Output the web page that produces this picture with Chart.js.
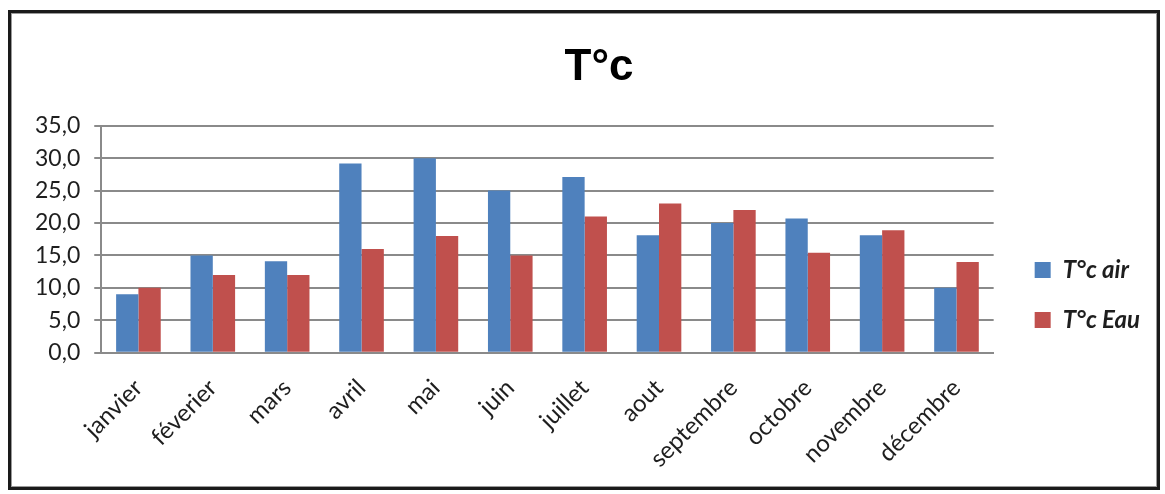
<!DOCTYPE html>
<html lang="fr">
<head>
<meta charset="utf-8">
<title>T°c</title>
<script src="https://cdn.jsdelivr.net/npm/chart.js@4/dist/chart.umd.min.js"></script>
<style>
  html, body { margin: 0; padding: 0; background: #fff; }
  #wrap { position: relative; width: 1165px; height: 494px; overflow: hidden; }
  #c { position: absolute; left: 0; top: 0; }
  #frame {
    position: absolute; left: 8px; top: 10px; width: 1146px; height: 474px;
    border: 3px solid #1a1a1a;
    box-shadow: inset 0 0 0 1px #9a9a9a;
    pointer-events: none;
  }
</style>
</head>
<body>
<div id="wrap">
  <canvas id="c" width="1165" height="494"></canvas>
  <div id="frame"></div>
</div>
<script>
// Mois de l'année
const months = ['janvier', 'féverier', 'mars', 'avril', 'mai', 'juin',
                'juillet', 'aout', 'septembre', 'octobre', 'novembre', 'décembre'];

// Températures moyennes mensuelles (°C)
const airTemp = [9.0, 15.0, 14.1, 29.2, 30.0, 25.0, 27.1, 18.1, 20.0, 20.7, 18.1, 10.0];
const waterTemp = [10.0, 12.0, 12.0, 16.0, 18.0, 15.0, 21.0, 23.0, 22.0, 15.4, 18.9, 14.0];

// Graduations de l'axe des ordonnées
const yTicks = [0, 5, 10, 15, 20, 25, 30, 35];

const seriesNames = ['T°c air', 'T°c Eau'];
const chartTitle = 'T°c';

const gridGray = '#8a8a8a';
const textDark = '#1e1e1e';

// Ajuste la position du titre et de la légende après la mise en page
const blockShift = {
  id: 'blockShift',
  afterLayout(chart) {
    const lg = chart.legend;
    if (lg) {
      lg.left += 15; lg.right += 15;
      lg.top += 220; lg.bottom += 220;
    }
    const tb = chart.titleBlock;
    if (tb) { tb.left += 21; tb.right += 21; }
  }
};

new Chart(document.getElementById('c'), {
  type: 'bar',
  data: {
    labels: months,
    datasets: [
      { label: seriesNames[0], data: airTemp, backgroundColor: '#4f81bd' },
      { label: seriesNames[1], data: waterTemp, backgroundColor: '#c0504d' }
    ]
  },
  options: {
    responsive: false,
    animation: false,
    devicePixelRatio: 1,
    datasets: { bar: { barPercentage: 1.0, categoryPercentage: 0.6 } },
    layout: { padding: { left: 21, right: 30, top: 12, bottom: 0 } },
    plugins: {
      tooltip: { enabled: false },
      title: {
        display: true,
        text: chartTitle,
        color: '#000',
        font: { family: "'Liberation Sans Narrow', 'Liberation Sans', Arial, sans-serif", size: 44, weight: 'bold' },
        padding: { top: 29, bottom: 32 }
      },
      legend: {
        position: 'right',
        align: 'start',
        labels: {
          boxWidth: 16,
          boxHeight: 16,
          padding: 26,
          color: textDark,
          font: { family: 'Lato, sans-serif', size: 24, weight: 'bold', style: 'italic' }
        }
      }
    },
    scales: {
      x: {
        grid: { display: false, drawTicks: false },
        border: { display: true, color: gridGray, width: 2 },
        ticks: {
          minRotation: 45,
          maxRotation: 45,
          autoSkip: false,
          padding: 21,
          color: textDark,
          font: { family: 'Lato, sans-serif', size: 24 }
        }
      },
      y: {
        min: 0,
        max: 35,
        afterBuildTicks(scale) { scale.ticks = yTicks.map(v => ({ value: v })); },
        grid: { color: gridGray, lineWidth: 2, drawTicks: true, tickLength: 7 },
        border: { display: true, color: gridGray, width: 2 },
        ticks: {
          padding: 14,
          color: textDark,
          font: { family: 'Lato, sans-serif', size: 23 },
          callback: v => Number(v).toFixed(1).replace('.', ',')
        }
      }
    }
  },
  plugins: [blockShift]
});
</script>
</body>
</html>
